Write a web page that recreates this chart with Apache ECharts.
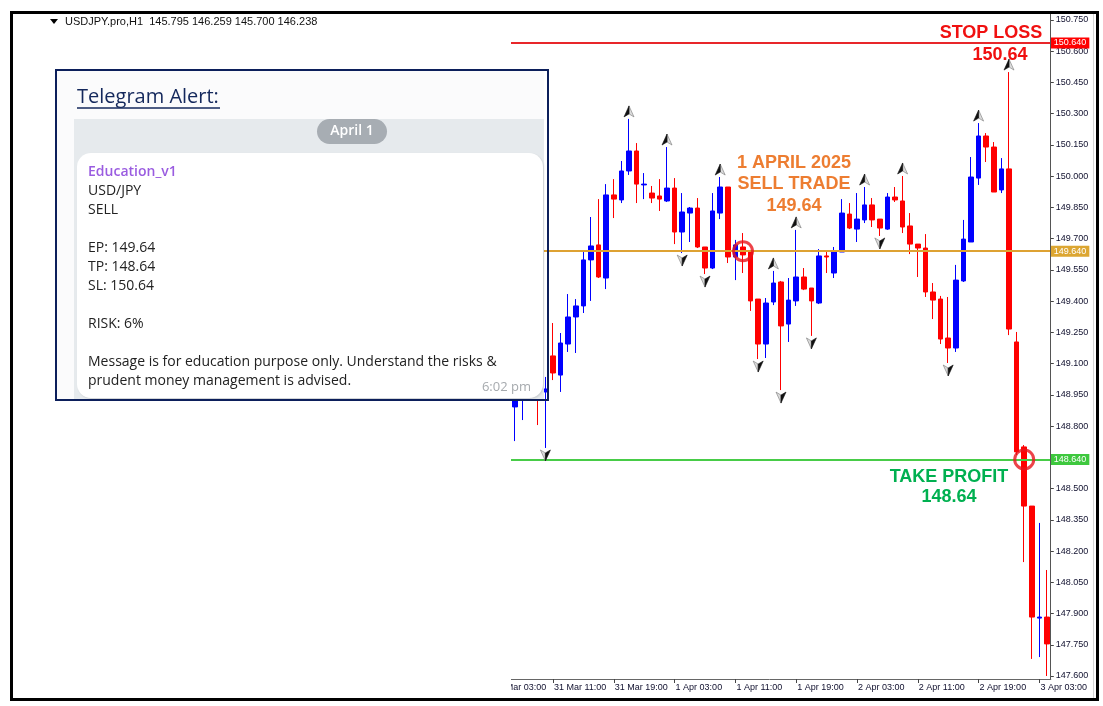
<!DOCTYPE html>
<html><head><meta charset="utf-8">
<script src="https://cdn.jsdelivr.net/npm/echarts@6/dist/echarts.min.js"></script>
<style>html,body{margin:0;padding:0;background:#fff;}#c{width:1103px;height:706px;}</style>
</head><body><div id="c"></div>
<script>
// ---- categories: hourly bars from 31 Mar 03:00 ----
const dayLabels = ['31 Mar', '1 Apr', '2 Apr', '3 Apr'];
const firstHour = 3;
const hiddenBars = 3; // bars 03:00-05:00 hidden behind the left white area
// ---- visible bars (31 Mar 06:00 ... 3 Apr 04:00) ----
const opens  = [148.892,148.935,149.007,148.997,148.964,149.137,149.045,149.194,149.324,149.377,
                149.598,149.670,149.511,149.910,149.886,150.025,150.121,149.958,149.919,149.905,
                149.881,149.943,149.732,149.823,149.847,149.660,149.559,149.823,149.948,149.612,
                149.660,149.636,149.410,149.194,149.396,149.492,149.290,149.401,149.516,149.463,
                149.391,149.617,149.535,149.636,149.818,149.746,149.790,149.862,149.794,149.746,
                149.900,149.881,149.761,149.674,149.655,149.444,149.410,149.223,149.175,149.497,
                149.684,149.991,150.193,150.140,149.934,150.035,149.204,148.700,148.416,147.878,
                147.883];
const highs  = [148.997,149.021,149.031,149.060,149.036,149.295,149.247,149.434,149.410,149.636,
                149.804,149.890,149.962,149.986,150.073,150.275,150.159,150.015,149.953,149.986,
                150.140,149.991,149.919,149.852,149.895,149.660,149.919,149.996,149.948,149.694,
                149.727,149.636,149.410,149.415,149.545,149.497,149.511,149.742,149.559,149.463,
                149.650,149.636,149.660,149.890,149.871,149.919,149.948,149.895,149.794,149.919,
                149.948,150.001,149.823,149.674,149.722,149.487,149.425,149.420,149.574,149.790,
                150.092,150.255,150.207,150.164,150.087,150.500,149.252,148.709,148.416,148.335,
                148.109];
const lows   = [148.728,148.829,148.935,148.805,148.695,149.021,148.964,149.156,149.151,149.343,
                149.401,149.511,149.458,149.799,149.871,150.006,149.871,149.890,149.871,149.833,
                149.876,149.674,149.631,149.684,149.655,149.530,149.554,149.794,149.583,149.501,
                149.535,149.353,149.122,149.127,149.381,148.973,149.204,149.377,149.453,149.233,
                149.386,149.535,149.511,149.636,149.746,149.684,149.775,149.756,149.713,149.742,
                149.876,149.727,149.626,149.516,149.420,149.314,149.194,149.103,149.156,149.492,
                149.684,149.958,150.068,149.924,149.919,149.237,148.661,148.147,147.682,147.691,
                147.600];
const closes = [148.964,148.997,148.954,148.935,148.978,149.055,149.199,149.324,149.377,149.598,
                149.665,149.516,149.910,149.890,150.025,150.121,149.962,149.962,149.895,149.890,
                149.943,149.732,149.828,149.847,149.660,149.559,149.833,149.948,149.612,149.670,
                149.622,149.401,149.194,149.391,149.487,149.281,149.405,149.516,149.458,149.401,
                149.617,149.612,149.636,149.823,149.751,149.794,149.862,149.790,149.751,149.900,
                149.886,149.756,149.674,149.655,149.444,149.405,149.218,149.175,149.501,149.698,
                149.996,150.193,150.140,149.924,150.035,149.266,148.676,148.416,147.883,147.883,
                147.754];
// fractal arrows (visible bar indices)
const upFractals   = [15, 20, 27, 34, 37, 46, 51, 61, 65];
const downFractals = [4, 22, 25, 32, 35, 39, 48, 57];
// trade levels
const stopLoss = 150.64, entry = 149.64, takeProfit = 148.64;
const entryBar = 30, tpBar = 67;
// y-axis ticks
const yMin = 147.6, yMax = 150.75, yStep = 0.15;

const total = hiddenBars + opens.length;
const pad = n => (n < 10 ? '0' : '') + n;
const categories = [];
for (let i = 0; i < total; i++) {
  const h = firstHour + i;
  categories.push(dayLabels[Math.floor(h / 24)] + ' ' + pad(h % 24) + ':00');
}
const candleData = [];
for (let i = 0; i < hiddenBars; i++) candleData.push(['-', '-', '-', '-']);
for (let j = 0; j < opens.length; j++) candleData.push([opens[j], closes[j], lows[j], highs[j]]);
const arrowData = [];
upFractals.forEach(j => arrowData.push([j + hiddenBars, highs[j], 1]));
downFractals.forEach(j => arrowData.push([j + hiddenBars, lows[j], -1]));

const chart = echarts.init(document.getElementById('c'), null, {renderer: 'canvas'});
const axisFont = '"Liberation Sans", Arial, sans-serif';
const boxFont = '"Open Sans", "Noto Sans", sans-serif';
const bold18 = 'bold 18px "Liberation Sans", Arial, sans-serif';
const axisColor = '#10102e';

function levelLine(v, color, tagColor) {
  return {
    yAxis: v,
    lineStyle: {color: color, width: 2, type: 'solid'},
    label: {
      show: true, position: 'end', distance: 0,
      formatter: v.toFixed(3), color: '#fff', backgroundColor: tagColor,
      fontSize: 9, fontFamily: axisFont, padding: [1, 3, 0, 3], lineHeight: 10
    }
  };
}

const bodyLines = [
  ['Education_v1', 172, '#9a5ce0'],
  ['USD/JPY', 191, '#222'],
  ['SELL', 210, '#222'],
  ['EP: 149.64', 248, '#222'],
  ['TP: 148.64', 267, '#222'],
  ['SL: 150.64', 286, '#222'],
  ['RISK: 6%', 324, '#222'],
  ['Message is for education purpose only. Understand the risks &', 362, '#222'],
  ['prudent money management is advised.', 381, '#222']
];

const graphics = [
  // white area covering left part of chart
  {type: 'rect', z: 50, shape: {x: 13, y: 14, width: 498, height: 684}, style: {fill: '#fff'}},
  // y axis line
  {type: 'line', z: 40, shape: {x1: 1050.5, y1: 13, x2: 1050.5, y2: 679}, style: {stroke: '#555', lineWidth: 1}},
  {type: 'line', z: 40, shape: {x1: 1093.5, y1: 14, x2: 1093.5, y2: 698}, style: {stroke: '#d4d4d4', lineWidth: 1}},
  // header
  {type: 'polygon', z: 60, shape: {points: [[50, 19], [58, 19], [54, 24]]}, style: {fill: '#000'}},
  {type: 'text', z: 60, style: {text: 'USDJPY.pro,H1  145.795 146.259 145.700 146.238', x: 65, y: 22,
    font: '11px ' + axisFont, fill: '#111', textVerticalAlign: 'middle'}},
  // telegram box
  {type: 'rect', z: 60, shape: {x: 57, y: 71, width: 487, height: 328}, style: {fill: '#fbfbfc'}},
  {type: 'rect', z: 61, shape: {x: 74, y: 119, width: 470, height: 280}, style: {fill: '#e6eaed'}},
  {type: 'rect', z: 62, shape: {x: 317, y: 119, width: 70, height: 25, r: 12.5}, style: {fill: '#a7adb3'}},
  {type: 'text', z: 63, style: {text: 'April 1', x: 352, y: 131.5, font: '600 14px ' + boxFont, fill: '#fff',
    textAlign: 'center', textVerticalAlign: 'middle'}},
  {type: 'rect', z: 62, shape: {x: 77, y: 153, width: 466, height: 245, r: 14},
    style: {fill: '#fff', shadowColor: 'rgba(0,0,0,0.12)', shadowBlur: 2, shadowOffsetX: 1, shadowOffsetY: 1}},
  {type: 'text', z: 63, style: {text: 'Telegram Alert:', x: 77, y: 97, font: '20px ' + boxFont, fill: '#14285c',
    textVerticalAlign: 'middle'}},
  {type: 'line', z: 63, shape: {x1: 77, y1: 108, x2: 220, y2: 108}, style: {stroke: '#14285c', lineWidth: 1.6}},
  {type: 'text', z: 63, style: {text: '6:02 pm', x: 531, y: 387, font: '13px ' + boxFont, fill: '#a6aaae',
    textAlign: 'right', textVerticalAlign: 'middle'}},
  {type: 'rect', z: 64, shape: {x: 56, y: 70, width: 492, height: 330}, style: {fill: 'none', stroke: '#0c1f5b', lineWidth: 2}},
  // annotations
  {type: 'text', z: 30, style: {text: 'STOP LOSS', x: 991, y: 33, font: bold18, fill: '#f01010', textAlign: 'center', textVerticalAlign: 'middle'}},
  {type: 'text', z: 30, style: {text: '150.64', x: 1000, y: 55, font: bold18, fill: '#f01010', textAlign: 'center', textVerticalAlign: 'middle'}},
  {type: 'text', z: 30, style: {text: '1 APRIL 2025', x: 794, y: 163, font: bold18, fill: '#ed7d31', textAlign: 'center', textVerticalAlign: 'middle'}},
  {type: 'text', z: 30, style: {text: 'SELL TRADE', x: 794, y: 184, font: bold18, fill: '#ed7d31', textAlign: 'center', textVerticalAlign: 'middle'}},
  {type: 'text', z: 30, style: {text: '149.64', x: 794, y: 206, font: bold18, fill: '#ed7d31', textAlign: 'center', textVerticalAlign: 'middle'}},
  {type: 'text', z: 30, style: {text: 'TAKE PROFIT', x: 949, y: 477, font: bold18, fill: '#00b050', textAlign: 'center', textVerticalAlign: 'middle'}},
  {type: 'text', z: 30, style: {text: '148.64', x: 949, y: 497, font: bold18, fill: '#00b050', textAlign: 'center', textVerticalAlign: 'middle'}},
  // outer frame
  {type: 'rect', z: 70, shape: {x: 11.5, y: 12.5, width: 1086, height: 687}, style: {fill: 'none', stroke: '#000', lineWidth: 3}}
];
bodyLines.forEach(l => graphics.push({type: 'text', z: 63, style: {text: l[0], x: 88, y: l[1],
  font: (l[0] === 'Education_v1' ? '600 ' : '') + '14px ' + boxFont, fill: l[2], textVerticalAlign: 'middle'}}));

chart.setOption({
  animation: false,
  backgroundColor: '#fff',
  grid: {left: 488.4, right: 52.2, top: 20, bottom: 30, containLabel: false},
  xAxis: {
    type: 'category', data: categories, boundaryGap: true, offset: 3,
    axisLine: {show: true, lineStyle: {color: '#666', width: 1}},
    axisTick: {show: true, alignWithLabel: true, interval: 7, length: 4, lineStyle: {color: '#444'}},
    axisLabel: {interval: 7, align: 'left', margin: 4, fontSize: 9, fontFamily: axisFont, color: axisColor, padding: [0, 0, 0, 1]},
    splitLine: {show: false}
  },
  yAxis: {
    type: 'value', position: 'right', min: yMin, max: yMax, interval: yStep, scale: true,
    axisLine: {show: false},
    axisTick: {show: true, length: 3, lineStyle: {color: '#444'}},
    axisLabel: {formatter: v => v.toFixed(3), fontSize: 9, fontFamily: axisFont, color: axisColor, margin: 5},
    splitLine: {show: false}
  },
  series: [
    {
      type: 'candlestick', data: candleData, barWidth: 5, z: 3,
      itemStyle: {color: '#0000ff', color0: '#ff0000', borderColor: '#0000ff', borderColor0: '#ff0000', borderWidth: 1},
      markLine: {
        silent: true, symbol: ['none', 'none'], animation: false, z: 5,
        data: [levelLine(stopLoss, '#e8262a', '#ff0000'), levelLine(entry, '#dea232', '#dca632'), levelLine(takeProfit, '#48cc48', '#3ec83e')]
      }
    },
    {
      type: 'custom', data: arrowData, z: 6, silent: true,
      renderItem: function (params, api) {
        const p = api.coord([api.value(0), api.value(1)]);
        const x = p[0];
        let dark, light;
        if (api.value(2) > 0) {
          const tip = p[1] - 13, base = p[1] - 2, notch = p[1] - 5;
          dark = [[x, tip], [x, notch], [x - 5, base]];
          light = [[x, tip], [x + 5, base], [x, notch]];
        } else {
          const tip = p[1] + 13, base = p[1] + 2, notch = p[1] + 5;
          dark = [[x, tip], [x, notch], [x + 5, base]];
          light = [[x, tip], [x - 5, base], [x, notch]];
        }
        return {type: 'group', children: [
          {type: 'polygon', shape: {points: light}, style: {fill: '#dcdcdc', stroke: '#777', lineWidth: 0.6}},
          {type: 'polygon', shape: {points: dark}, style: {fill: '#111', stroke: '#111', lineWidth: 0.6}}
        ]};
      }
    },
    {
      type: 'scatter', z: 7, silent: true, symbol: 'circle', symbolSize: 19,
      data: [[entryBar + hiddenBars, entry], [tpBar + hiddenBars, takeProfit]],
      itemStyle: {color: 'rgba(0,0,0,0)', borderColor: '#e8141b', borderWidth: 3}
    }
  ],
  graphic: {elements: graphics}
});
</script>
</body></html>
